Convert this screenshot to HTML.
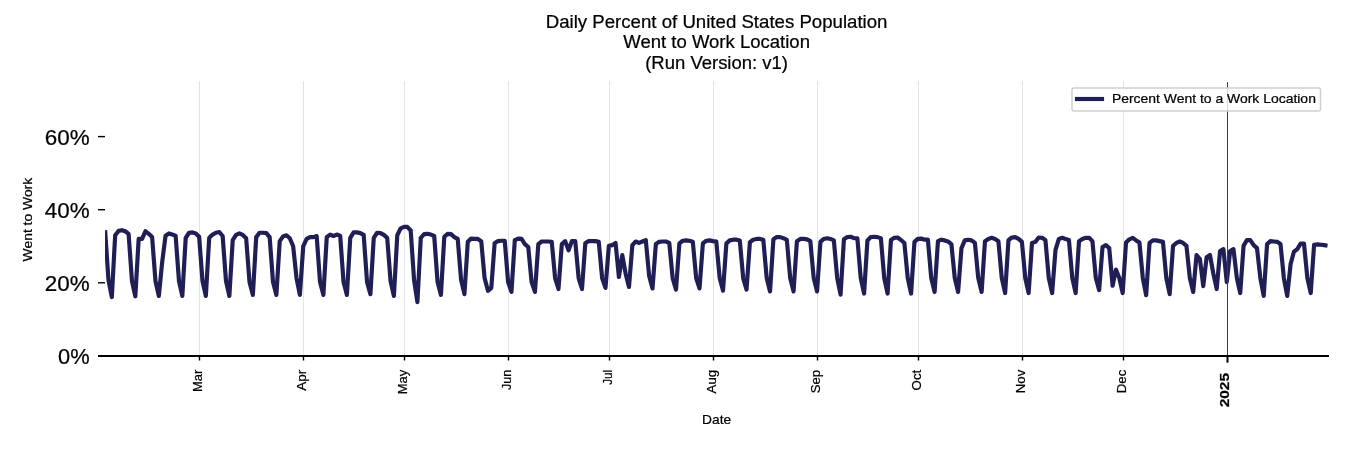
<!DOCTYPE html>
<html><head><meta charset="utf-8"><title>Daily Percent of United States Population Went to Work Location</title>
<style>html,body{margin:0;padding:0;background:#fff;width:1350px;height:450px;overflow:hidden} text{stroke:#000;stroke-width:0.22px}</style>
</head><body>
<svg width="1350" height="450" viewBox="0 0 1350 450" style="display:block;will-change:transform">
<rect width="1350" height="450" fill="#fff"/>
<line x1="199.5" y1="81" x2="199.5" y2="356" stroke="#e3e3e3" stroke-width="1"/>
<line x1="303.5" y1="81" x2="303.5" y2="356" stroke="#e3e3e3" stroke-width="1"/>
<line x1="404.5" y1="81" x2="404.5" y2="356" stroke="#e3e3e3" stroke-width="1"/>
<line x1="508.5" y1="81" x2="508.5" y2="356" stroke="#e3e3e3" stroke-width="1"/>
<line x1="609.5" y1="81" x2="609.5" y2="356" stroke="#e3e3e3" stroke-width="1"/>
<line x1="713.5" y1="81" x2="713.5" y2="356" stroke="#e3e3e3" stroke-width="1"/>
<line x1="817.5" y1="81" x2="817.5" y2="356" stroke="#e3e3e3" stroke-width="1"/>
<line x1="918.5" y1="81" x2="918.5" y2="356" stroke="#e3e3e3" stroke-width="1"/>
<line x1="1022.5" y1="81" x2="1022.5" y2="356" stroke="#e3e3e3" stroke-width="1"/>
<line x1="1123.5" y1="81" x2="1123.5" y2="356" stroke="#e3e3e3" stroke-width="1"/>
<defs><clipPath id="ax"><rect x="105.1" y="60" width="1222.8" height="300"/></clipPath></defs>
<polyline clip-path="url(#ax)" points="105.10,230.17 108.46,279.88 111.82,297.05 115.17,235.28 118.53,230.90 121.89,230.17 125.25,231.26 128.61,233.82 131.97,280.97 135.32,296.32 138.68,238.94 142.04,238.94 145.40,231.26 148.76,233.82 152.12,237.11 155.47,280.97 158.83,295.96 162.19,261.97 165.55,235.65 168.91,233.46 172.27,234.55 175.62,235.65 178.98,280.97 182.34,295.96 185.70,237.84 189.06,232.73 192.42,232.36 195.77,233.46 199.13,236.75 202.49,280.97 205.85,295.96 209.21,237.84 212.57,234.55 215.92,232.73 219.28,232.00 222.64,236.02 226.00,280.97 229.36,295.96 232.72,240.04 236.07,234.92 239.43,233.46 242.79,234.92 246.15,238.21 249.51,282.07 252.87,294.86 256.22,237.11 259.58,232.73 262.94,232.73 266.30,233.09 269.66,237.11 273.01,282.07 276.37,294.86 279.73,241.13 283.09,236.38 286.45,235.28 289.81,238.21 293.16,246.25 296.52,278.05 299.88,294.86 303.24,246.25 306.60,238.94 309.96,237.11 313.31,237.11 316.67,236.02 320.03,282.07 323.39,294.86 326.75,237.11 330.11,234.55 333.46,236.02 336.82,234.55 340.18,235.65 343.54,282.07 346.90,294.86 350.26,237.84 353.61,232.36 356.97,232.36 360.33,233.09 363.69,234.92 367.05,282.07 370.41,294.13 373.76,237.84 377.12,232.73 380.48,233.09 383.84,234.92 387.20,237.84 390.56,280.97 393.91,295.96 397.27,235.28 400.63,228.34 403.99,226.88 407.35,226.88 410.71,230.53 414.06,279.88 417.42,302.17 420.78,237.84 424.14,234.19 427.50,233.82 430.86,234.55 434.21,236.02 437.57,282.07 440.93,294.86 444.29,236.75 447.65,233.82 451.00,234.19 454.36,237.11 457.72,238.94 461.08,279.88 464.44,294.13 467.80,241.86 471.15,238.57 474.51,238.94 477.87,238.94 481.23,241.13 484.59,278.05 487.95,290.84 491.30,287.92 494.66,242.96 498.02,241.13 501.38,240.77 504.74,240.77 508.10,282.07 511.45,291.94 514.81,240.04 518.17,238.57 521.53,238.94 524.89,244.06 528.25,246.98 531.60,282.07 534.96,291.94 538.32,244.06 541.68,241.50 545.04,241.50 548.40,241.50 551.75,241.86 555.11,278.05 558.47,289.01 561.83,244.06 565.19,241.13 568.55,250.27 571.90,241.13 575.26,241.13 578.62,278.05 581.98,289.01 585.34,242.96 588.70,241.13 592.05,241.13 595.41,241.13 598.77,241.86 602.13,278.05 605.49,287.92 608.85,245.88 612.20,245.15 615.56,242.96 618.92,276.95 622.28,255.02 625.64,273.66 628.99,287.00 632.35,245.15 635.71,241.50 639.07,242.96 642.43,241.50 645.79,240.04 649.14,275.86 652.50,288.47 655.86,244.06 659.22,241.86 662.58,241.50 665.94,241.50 669.29,242.96 672.65,278.05 676.01,289.56 679.37,243.33 682.73,240.77 686.09,240.40 689.44,240.77 692.80,241.68 696.16,278.05 699.52,288.47 702.88,243.33 706.24,240.77 709.59,240.40 712.95,241.13 716.31,241.68 719.67,278.05 723.03,290.66 726.39,243.33 729.74,240.40 733.10,239.67 736.46,239.67 739.82,240.58 743.18,278.05 746.54,289.56 749.89,242.23 753.25,239.67 756.61,238.94 759.97,238.94 763.33,239.85 766.69,278.05 770.04,291.39 773.40,239.31 776.76,237.11 780.12,237.11 783.48,238.21 786.83,239.85 790.19,278.05 793.55,291.39 796.91,241.13 800.27,238.94 803.63,238.94 806.98,239.31 810.34,241.13 813.70,278.05 817.06,291.39 820.42,241.86 823.78,238.94 827.13,238.21 830.49,238.94 833.85,240.40 837.21,278.05 840.57,294.68 843.93,239.31 847.28,237.11 850.64,236.75 854.00,238.21 857.36,238.21 860.72,278.05 864.08,293.58 867.43,240.40 870.79,237.11 874.15,236.75 877.51,237.11 880.87,238.21 884.23,278.05 887.58,293.58 890.94,240.04 894.30,237.84 897.66,237.48 901.02,240.04 904.38,242.96 907.73,278.05 911.09,293.58 914.45,241.86 917.81,238.94 921.17,238.57 924.53,239.67 927.88,239.67 931.24,278.05 934.60,291.94 937.96,241.13 941.32,239.67 944.67,240.40 948.03,241.50 951.39,244.06 954.75,278.05 958.11,291.94 961.47,248.08 964.82,240.40 968.18,239.67 971.54,240.40 974.90,242.96 978.26,278.05 981.62,291.94 984.97,241.13 988.33,238.94 991.69,237.84 995.05,238.94 998.41,241.13 1001.77,278.05 1005.12,293.03 1008.48,240.04 1011.84,237.48 1015.20,237.11 1018.56,238.94 1021.92,241.86 1025.27,278.05 1028.63,293.03 1031.99,242.96 1035.35,241.86 1038.71,237.48 1042.07,237.84 1045.42,240.04 1048.78,278.05 1052.14,293.03 1055.50,249.90 1058.86,238.94 1062.22,237.84 1065.57,238.94 1068.93,240.04 1072.29,278.05 1075.65,293.03 1079.01,241.13 1082.37,238.94 1085.72,237.84 1089.08,237.84 1092.44,241.13 1095.80,278.05 1099.16,290.11 1102.52,246.98 1105.87,245.15 1109.23,248.08 1112.59,285.72 1115.95,269.64 1119.31,278.05 1122.66,293.03 1126.02,242.59 1129.38,239.31 1132.74,237.84 1136.10,240.40 1139.46,242.59 1142.81,278.05 1146.17,295.23 1149.53,242.96 1152.89,240.40 1156.25,240.40 1159.61,241.13 1162.96,241.86 1166.32,278.05 1169.68,294.13 1173.04,245.88 1176.40,242.96 1179.76,241.50 1183.11,242.96 1186.47,245.88 1189.83,278.05 1193.19,291.94 1196.55,255.02 1199.91,259.04 1203.26,286.09 1206.62,257.21 1209.98,255.02 1213.34,273.66 1216.70,289.01 1220.06,251.00 1223.41,249.17 1226.77,282.07 1230.13,251.00 1233.49,249.17 1236.85,278.05 1240.21,293.03 1243.56,245.88 1246.92,240.04 1250.28,240.04 1253.64,245.15 1257.00,248.08 1260.36,278.05 1263.71,295.96 1267.07,244.06 1270.43,241.13 1273.79,241.50 1277.15,241.86 1280.50,244.06 1283.86,278.05 1287.22,295.96 1290.58,264.16 1293.94,251.73 1297.30,249.17 1300.65,243.69 1304.01,243.69 1307.37,278.05 1310.73,293.03 1314.09,244.79 1317.45,244.42 1320.80,244.79 1324.16,245.15 1327.52,245.70" fill="none" stroke="#1f1f55" stroke-width="4.17" stroke-linejoin="round" stroke-linecap="butt"/>
<line x1="1227.5" y1="82" x2="1227.5" y2="356" stroke="#3c3c3c" stroke-width="1"/>
<rect x="1072" y="88" width="248.5" height="23" rx="2" ry="2" fill="#fff" fill-opacity="0.8" stroke="#d0d0d0" stroke-width="1.5"/>
<line x1="1077" y1="99" x2="1102" y2="99" stroke="#1f1f55" stroke-width="4.17" stroke-linecap="square"/>
<text x="1111.9" y="102.6" font-family='"Liberation Sans", sans-serif' font-size="13" fill="#000" textLength="204.0" lengthAdjust="spacingAndGlyphs">Percent Went to a Work Location</text>
<line x1="98" y1="355.9" x2="1329" y2="355.9" stroke="#000" stroke-width="2"/>
<line x1="199.5" y1="356" x2="199.5" y2="360.5" stroke="#000" stroke-width="1.4"/>
<line x1="303.5" y1="356" x2="303.5" y2="360.5" stroke="#000" stroke-width="1.4"/>
<line x1="404.5" y1="356" x2="404.5" y2="360.5" stroke="#000" stroke-width="1.4"/>
<line x1="508.5" y1="356" x2="508.5" y2="360.5" stroke="#000" stroke-width="1.4"/>
<line x1="609.5" y1="356" x2="609.5" y2="360.5" stroke="#000" stroke-width="1.4"/>
<line x1="713.5" y1="356" x2="713.5" y2="360.5" stroke="#000" stroke-width="1.4"/>
<line x1="817.5" y1="356" x2="817.5" y2="360.5" stroke="#000" stroke-width="1.4"/>
<line x1="918.5" y1="356" x2="918.5" y2="360.5" stroke="#000" stroke-width="1.4"/>
<line x1="1022.5" y1="356" x2="1022.5" y2="360.5" stroke="#000" stroke-width="1.4"/>
<line x1="1123.5" y1="356" x2="1123.5" y2="360.5" stroke="#000" stroke-width="1.4"/>
<line x1="1227.5" y1="356" x2="1227.5" y2="362.7" stroke="#000" stroke-width="2"/>
<line x1="98" y1="282.80" x2="105" y2="282.80" stroke="#000" stroke-width="1.4"/>
<line x1="98" y1="209.70" x2="105" y2="209.70" stroke="#000" stroke-width="1.4"/>
<line x1="98" y1="136.60" x2="105" y2="136.60" stroke="#000" stroke-width="1.4"/>
<text x="89.6" y="363.9" text-anchor="end" font-family='"Liberation Sans", sans-serif' font-size="22.2" fill="#000" textLength="31.6" lengthAdjust="spacingAndGlyphs">0%</text>
<text x="89.6" y="290.7" text-anchor="end" font-family='"Liberation Sans", sans-serif' font-size="22.2" fill="#000" textLength="44.9" lengthAdjust="spacingAndGlyphs">20%</text>
<text x="89.6" y="217.6" text-anchor="end" font-family='"Liberation Sans", sans-serif' font-size="22.2" fill="#000" textLength="44.9" lengthAdjust="spacingAndGlyphs">40%</text>
<text x="89.6" y="144.7" text-anchor="end" font-family='"Liberation Sans", sans-serif' font-size="22.2" fill="#000" textLength="44.9" lengthAdjust="spacingAndGlyphs">60%</text>
<text transform="translate(201.90,369.8) rotate(-90)" text-anchor="end" font-family='"Liberation Sans", sans-serif' font-size="13" fill="#000" textLength="22.25" lengthAdjust="spacingAndGlyphs">Mar</text>
<text transform="translate(305.90,369.8) rotate(-90)" text-anchor="end" font-family='"Liberation Sans", sans-serif' font-size="13" fill="#000" textLength="21.0" lengthAdjust="spacingAndGlyphs">Apr</text>
<text transform="translate(406.90,369.8) rotate(-90)" text-anchor="end" font-family='"Liberation Sans", sans-serif' font-size="13" fill="#000" textLength="24.5" lengthAdjust="spacingAndGlyphs">May</text>
<text transform="translate(510.90,369.8) rotate(-90)" text-anchor="end" font-family='"Liberation Sans", sans-serif' font-size="13" fill="#000" textLength="20.2" lengthAdjust="spacingAndGlyphs">Jun</text>
<text transform="translate(611.90,369.8) rotate(-90)" text-anchor="end" font-family='"Liberation Sans", sans-serif' font-size="13" fill="#000" textLength="15.0" lengthAdjust="spacingAndGlyphs">Jul</text>
<text transform="translate(715.90,369.8) rotate(-90)" text-anchor="end" font-family='"Liberation Sans", sans-serif' font-size="13" fill="#000" textLength="23.6" lengthAdjust="spacingAndGlyphs">Aug</text>
<text transform="translate(819.90,369.8) rotate(-90)" text-anchor="end" font-family='"Liberation Sans", sans-serif' font-size="13" fill="#000" textLength="23.5" lengthAdjust="spacingAndGlyphs">Sep</text>
<text transform="translate(920.90,369.8) rotate(-90)" text-anchor="end" font-family='"Liberation Sans", sans-serif' font-size="13" fill="#000" textLength="20.6" lengthAdjust="spacingAndGlyphs">Oct</text>
<text transform="translate(1024.90,369.8) rotate(-90)" text-anchor="end" font-family='"Liberation Sans", sans-serif' font-size="13" fill="#000" textLength="23.4" lengthAdjust="spacingAndGlyphs">Nov</text>
<text transform="translate(1125.90,369.8) rotate(-90)" text-anchor="end" font-family='"Liberation Sans", sans-serif' font-size="13" fill="#000" textLength="23.4" lengthAdjust="spacingAndGlyphs">Dec</text>
<text transform="translate(1228.50,373) rotate(-90)" text-anchor="end" font-family='"Liberation Sans", sans-serif' font-size="13" font-weight="bold" fill="#000" textLength="34.3" lengthAdjust="spacingAndGlyphs">2025</text>
<text x="716.6" y="423.7" text-anchor="middle" font-family='"Liberation Sans", sans-serif' font-size="13" fill="#000" textLength="29.1" lengthAdjust="spacingAndGlyphs">Date</text>
<text transform="translate(32,219.6) rotate(-90)" text-anchor="middle" font-family='"Liberation Sans", sans-serif' font-size="13" fill="#000" textLength="83.6" lengthAdjust="spacingAndGlyphs">Went to Work</text>
<text x="716.6" y="27.5" text-anchor="middle" font-family='"Liberation Sans", sans-serif' font-size="17.5" fill="#000" textLength="341.8" lengthAdjust="spacingAndGlyphs">Daily Percent of United States Population</text>
<text x="716.6" y="47.9" text-anchor="middle" font-family='"Liberation Sans", sans-serif' font-size="17.5" fill="#000" textLength="186.7" lengthAdjust="spacingAndGlyphs">Went to Work Location</text>
<text x="716.6" y="68.6" text-anchor="middle" font-family='"Liberation Sans", sans-serif' font-size="17.5" fill="#000" textLength="142.8" lengthAdjust="spacingAndGlyphs">(Run Version: v1)</text>
</svg>
</body></html>
